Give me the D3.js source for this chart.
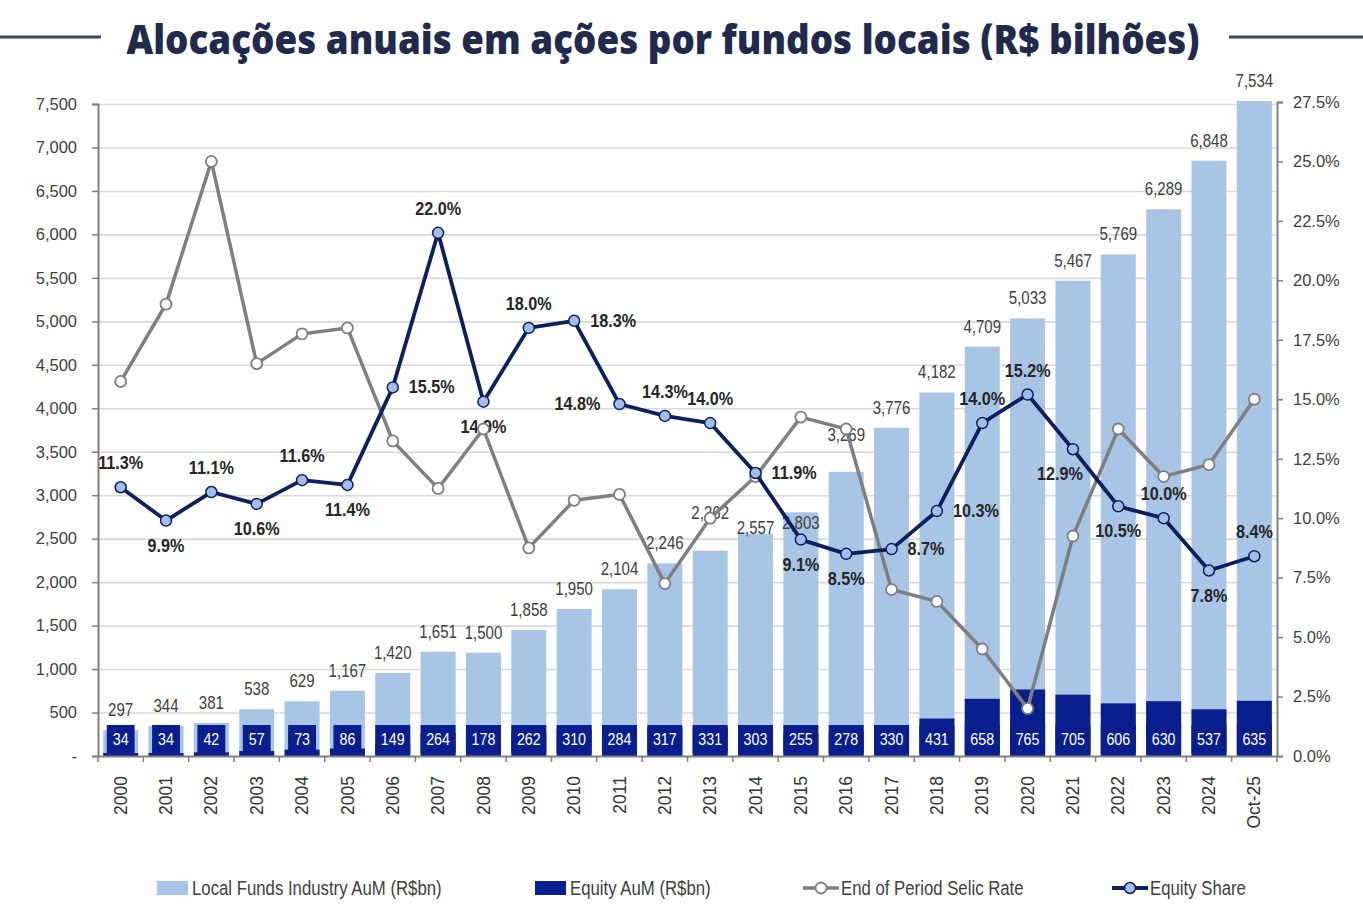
<!DOCTYPE html>
<html>
<head>
<meta charset="utf-8">
<script src="https://cdn.jsdelivr.net/npm/d3@7"></script>
<style>
  html, body { margin: 0; padding: 0; background: #fff; }
  svg { display: block; }
  .narrow { font-family: "Liberation Sans", Arial, sans-serif; }
  .reg { font-family: "Liberation Sans", Arial, sans-serif; }
</style>
</head>
<body>
<svg id="chart" width="1363" height="914"></svg>
<script>
// ---------------- DATA ----------------
const categories = ['2000','2001','2002','2003','2004','2005','2006','2007','2008','2009','2010','2011','2012','2013','2014','2015','2016','2017','2018','2019','2020','2021','2022','2023','2024','Oct-25'];
// values printed above the bars
const fundsAuMLabel = [297,344,381,538,629,1167,1420,1651,1500,1858,1950,2104,2246,2362,2557,2803,3269,3776,4182,4709,5033,5467,5769,6289,6848,7534];
// bar heights as drawn in the reference (some early bars are drawn lower than their printed value)
const fundsAuMBar = [297,344,381,538,629,751,955,1200,1188,1449,1691,1918,2216,2362,2557,2803,3269,3776,4182,4709,5033,5467,5769,6289,6848,7534];
const equityAuM = [34,34,42,57,73,86,149,264,178,262,310,284,317,331,303,255,278,330,431,658,765,705,606,630,537,635];
const selicRate = [15.75,19.0,25.0,16.5,17.75,18.0,13.25,11.25,13.75,8.75,10.75,11.0,7.25,10.0,11.75,14.25,13.75,7.0,6.5,4.5,2.0,9.25,13.75,11.75,12.25,15.0];
const equityShare = [11.3,9.9,11.1,10.6,11.6,11.4,15.5,22.0,14.9,18.0,18.3,14.8,14.3,14.0,11.9,9.1,8.5,8.7,10.3,14.0,15.2,12.9,10.5,10.0,7.8,8.4];
const leftTickValues = [0,500,1000,1500,2000,2500,3000,3500,4000,4500,5000,5500,6000,6500,7000,7500];
const rightTickValues = [0,2.5,5,7.5,10,12.5,15,17.5,20,22.5,25,27.5];
const titleText = 'Alocações anuais em ações por fundos locais (R$ bilhões)';
const legendNames = ['Local Funds Industry AuM (R$bn)','Equity AuM (R$bn)','End of Period Selic Rate','Equity Share'];

// ---------------- STYLE / LAYOUT OPTIONS ----------------
const C = {
  light: '#a9c5e6', dark: '#0a1f8f', gray: '#7f7f7f', navy: '#0d1f5f',
  marker: '#a3bdea', grid: '#d9d9d9', axis: '#808080', text: '#404040', title: '#1f2a4d'
};
// label placement for the equity share series: t=top, b=bottom, r=right, l=left, bl=bottom-left
const shareLabelPlace = ['t','b','t','b','t','b','r','t','b','t','r','l','t','t','r','b','b','r','r','t','t','bl','b','t','b','t'];
// manual vertical nudges of some total labels (px)
const totalLabelNudge = {'2013': -18, '2014': 14, '2015': 31, '2016': -17};

const svg = d3.select('#chart');
const X0 = 98, X1 = 1277, YB = 756;

const x = d3.scaleBand().domain(categories).range([X0, X1]).paddingInner(0.228).paddingOuter(0.114);
const yL = d3.scaleLinear().domain([0, 7500]).range([YB, 104]);
const yR = d3.scaleLinear().domain([0, 27.5]).range([YB, 102]);
const bw = x.bandwidth();
const cx = d => x(d) + bw / 2;

// condensed text helper (narrow look via horizontal scale)
function place(sel, fx, fy, sx) {
  sel.attr('x', 0).attr('y', 0)
    .attr('transform', (d, i) => `translate(${fx(d, i)},${fy(d, i)}) scale(${sx},1)`);
}

// ---------------- TITLE ----------------
svg.append('line').attr('x1', 0).attr('x2', 101).attr('y1', 37).attr('y2', 37)
  .attr('stroke', '#3a4560').attr('stroke-width', 3);
svg.append('line').attr('x1', 1229).attr('x2', 1363).attr('y1', 37).attr('y2', 37)
  .attr('stroke', '#3a4560').attr('stroke-width', 3);
svg.append('text').attr('x', 663).attr('y', 54).attr('text-anchor', 'middle')
  .attr('font-family', '"Open Sans", "Noto Sans", sans-serif').attr('font-weight', 800)
  .attr('font-size', 40).attr('fill', C.title)
  .attr('textLength', 1073).attr('lengthAdjust', 'spacingAndGlyphs')
  .text(titleText);

// ---------------- GRID ----------------
svg.append('g').attr('transform', `translate(${X0},0)`)
  .call(d3.axisLeft(yL).tickValues(leftTickValues.filter(v => v > 0)).tickSize(-(X1 - X0)).tickFormat(''))
  .call(g => g.select('.domain').remove())
  .call(g => g.selectAll('line').attr('stroke', C.grid).attr('stroke-width', 1.6));

// ---------------- BARS ----------------
svg.append('g').selectAll('rect').data(categories).join('rect')
  .attr('x', d => x(d)).attr('width', bw)
  .attr('y', (d, i) => yL(fundsAuMBar[i])).attr('height', (d, i) => YB - yL(fundsAuMBar[i]))
  .attr('fill', C.light);
svg.append('g').selectAll('rect').data(categories).join('rect')
  .attr('x', d => x(d)).attr('width', bw)
  .attr('y', (d, i) => yL(equityAuM[i])).attr('height', (d, i) => YB - yL(equityAuM[i]))
  .attr('fill', C.dark);

// ---------------- AXES ----------------
const axL = svg.append('g').attr('transform', `translate(${X0},0)`)
  .call(d3.axisLeft(yL).tickValues(leftTickValues).tickSize(6).tickPadding(15)
    .tickFormat(d => d === 0 ? '-' : d3.format(',')(d)));
const axR = svg.append('g').attr('transform', `translate(${X1},0)`)
  .call(d3.axisRight(yR).tickValues(rightTickValues).tickSize(6).tickPadding(10)
    .tickFormat(d => d.toFixed(1) + '%'));
[axL, axR].forEach(g => {
  g.select('.domain').attr('stroke', C.axis).attr('stroke-width', 2);
  g.selectAll('.tick line').attr('stroke', C.axis).attr('stroke-width', 1.5);
  g.selectAll('.tick text').attr('class', 'reg').attr('font-size', 16.5).attr('fill', C.text);
});
const axB = svg.append('g').attr('transform', `translate(0,${YB})`)
  .call(d3.axisBottom(x).tickSize(0).tickPadding(0));
axB.select('.domain').attr('stroke', C.axis).attr('stroke-width', 2);
axB.selectAll('.tick text').attr('class', 'reg').attr('font-size', 17.5).attr('fill', '#333')
  .attr('text-anchor', 'end').attr('transform', 'translate(0,20) rotate(-90)')
  .attr('x', 0).attr('y', 0).attr('dy', '0.35em');
// boundary ticks between categories
const bounds = categories.map(d => x(d) - x.step() * x.paddingInner() / 2).concat([X1]);
svg.append('g').selectAll('line').data(bounds).join('line')
  .attr('x1', d => d).attr('x2', d => d).attr('y1', YB).attr('y2', YB + 6)
  .attr('stroke', C.axis).attr('stroke-width', 1.5);

// ---------------- LABELS ----------------
svg.append('g').selectAll('text').data(categories).join('text')
  .attr('class', 'narrow').attr('font-size', 17.5).attr('fill', C.text)
  .attr('text-anchor', 'middle')
  .call(place, d => cx(d), (d, i) => yL(fundsAuMBar[i]) - 14 + (totalLabelNudge[d] || 0), 0.86)
  .text((d, i) => d3.format(',')(fundsAuMLabel[i]));

const boxG = svg.append('g');
categories.forEach((d, i) => {
  const g = boxG.append('g');
  const t = g.append('text').attr('class', 'narrow').attr('font-size', 17).attr('fill', '#fff')
    .attr('text-anchor', 'middle').call(place, () => cx(d), () => 745, 0.84).text(equityAuM[i]);
  const w = Math.min(bw, t.node().getComputedTextLength() * 0.84 + 12);
  g.insert('rect', 'text').attr('x', cx(d) - w / 2).attr('width', w).attr('y', 725).attr('height', 28)
    .attr('fill', C.dark);
});

svg.append('g').selectAll('text').data(categories).join('text')
  .attr('class', 'narrow').attr('font-size', 18).attr('font-weight', 700).attr('fill', '#262626')
  .attr('text-anchor', (d, i) => ({ r: 'start', l: 'end' }[shareLabelPlace[i]] || 'middle'))
  .call(place, (d, i) => {
    const p = shareLabelPlace[i];
    return cx(d) + (p === 'r' ? 16 : p === 'l' ? -19 : p === 'bl' ? -13 : 0);
  }, (d, i) => {
    const p = shareLabelPlace[i], y = yR(equityShare[i]);
    return p === 't' ? y - 18 : (p === 'b' || p === 'bl') ? y + 31 : y + 6;
  }, 0.9)
  .text((d, i) => equityShare[i].toFixed(1) + '%');

// ---------------- LINES ----------------
const lineGen = d3.line().x((d, i) => cx(categories[i])).y(d => yR(d));
svg.append('path').datum(selicRate).attr('d', lineGen)
  .attr('fill', 'none').attr('stroke', C.gray).attr('stroke-width', 3.5).attr('stroke-linejoin', 'round');
svg.append('g').selectAll('circle').data(selicRate).join('circle')
  .attr('cx', (d, i) => cx(categories[i])).attr('cy', d => yR(d)).attr('r', 5.5)
  .attr('fill', '#fff').attr('stroke', C.gray).attr('stroke-width', 1.8);

svg.append('path').datum(equityShare).attr('d', lineGen)
  .attr('fill', 'none').attr('stroke', C.navy).attr('stroke-width', 3.8).attr('stroke-linejoin', 'round');
svg.append('g').selectAll('circle').data(equityShare).join('circle')
  .attr('cx', (d, i) => cx(categories[i])).attr('cy', d => yR(d)).attr('r', 5.5)
  .attr('fill', C.marker).attr('stroke', C.navy).attr('stroke-width', 1.5);

// ---------------- LEGEND ----------------
const LY = 888;
const leg = svg.append('g');
const legX = [157, 535, 803, 1112];
leg.append('rect').attr('x', legX[0]).attr('y', LY - 7).attr('width', 31).attr('height', 14).attr('fill', C.light);
leg.append('rect').attr('x', legX[1]).attr('y', LY - 7).attr('width', 31).attr('height', 14).attr('fill', C.dark);
leg.append('line').attr('x1', legX[2]).attr('x2', legX[2] + 36).attr('y1', LY).attr('y2', LY)
  .attr('stroke', C.gray).attr('stroke-width', 3.5);
leg.append('circle').attr('cx', legX[2] + 18).attr('cy', LY).attr('r', 5.5)
  .attr('fill', '#fff').attr('stroke', C.gray).attr('stroke-width', 1.8);
leg.append('line').attr('x1', legX[3]).attr('x2', legX[3] + 36).attr('y1', LY).attr('y2', LY)
  .attr('stroke', C.navy).attr('stroke-width', 3.8);
leg.append('circle').attr('cx', legX[3] + 18).attr('cy', LY).attr('r', 5.5)
  .attr('fill', C.marker).attr('stroke', C.navy).attr('stroke-width', 1.5);
const legTextX = [192, 570, 841, 1150];
leg.selectAll('text').data(legendNames).join('text')
  .attr('class', 'narrow').attr('font-size', 19.5).attr('fill', C.text)
  .call(place, (d, i) => legTextX[i], () => LY + 7, 0.86)
  .text(d => d);
</script>
</body>
</html>
